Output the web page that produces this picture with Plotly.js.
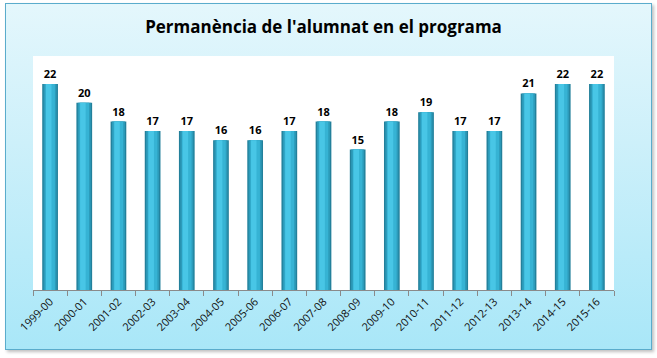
<!DOCTYPE html>
<html><head><meta charset="utf-8">
<script src="https://cdn.plot.ly/plotly-3.0.1.min.js"></script>
<style>
html,body{margin:0;padding:0;background:#fff;}
#bg{position:absolute;left:5px;top:3px;width:645px;height:345px;border:1px solid #5aaccc;
background:linear-gradient(to bottom,#e4f7fc 0%,#cdf0fa 40%,#a9e7f8 100%);box-shadow:2px 2px 3px rgba(0,0,0,0.25);}
#chart{position:absolute;left:0;top:0;width:657px;height:358px;}
</style></head>
<body>
<div id="bg"></div>
<div id="chart"></div>
<script>
const categories = ["1999-00","2000-01","2001-02","2002-03","2003-04","2004-05","2005-06","2006-07","2007-08","2008-09","2009-10","2010-11","2011-12","2012-13","2013-14","2014-15","2015-16"];
const values = [22,20,18,17,17,16,16,17,18,15,18,19,17,17,21,22,22];

const layers = [
  {w:0.46, c:'#23809b'},
  {w:0.38, c:'#2c9bba'},
  {w:0.28, c:'#36b3d4'},
  {w:0.16, c:'#48c6e6'}
];
const traces = layers.map((l,i)=>({
  type:'bar', x:categories, y:values, width:l.w,
  marker:{color:l.c, line:{width:0}},
  hoverinfo:'skip', showlegend:false,
  offset: i===3 ? -0.12 : undefined
}));
traces.push({
  type:'bar', x:categories, y:values, width:0.46,
  marker:{color:'rgba(0,0,0,0)', line:{width:0}},
  text:values.map(String), textposition:'outside', cliponaxis:false,
  textfont:{family:'Open Sans, Arial, sans-serif', size:11, color:'#000', weight:'bold'},
  showlegend:false
});

const layout = {
  width:657, height:358,
  margin:{l:33, r:43, t:56, b:68},
  paper_bgcolor:'rgba(0,0,0,0)', plot_bgcolor:'#ffffff',
  barmode:'overlay',
  title:{text:"<b>Permanència de l'alumnat en el programa</b>", x:0.5, xref:'paper', xanchor:'center', y:0.925, yanchor:'middle',
         font:{family:'Open Sans, Arial, sans-serif', size:17, color:'#000'}},
  xaxis:{type:'category', tickangle:-45, showline:true, linecolor:'#8a8a8a', linewidth:1,
         ticks:'outside', tickson:'boundaries', ticklen:5, tickcolor:'#8a8a8a',
         tickfont:{family:'Open Sans, Arial, sans-serif', size:11, color:'#111'}, showgrid:false, fixedrange:true},
  yaxis:{range:[0,25], visible:false, showgrid:false, zeroline:false},
  font:{family:'Open Sans, Arial, sans-serif'}
};
Plotly.newPlot('chart', traces, layout, {displayModeBar:false, staticPlot:true});
</script>
</body></html>
